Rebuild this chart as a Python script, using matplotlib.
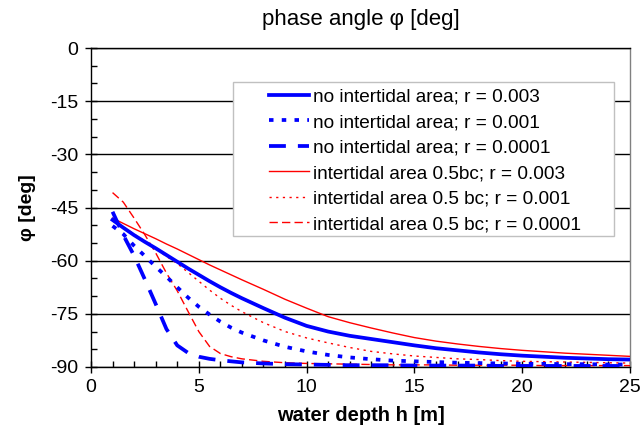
import matplotlib
matplotlib.use("Agg")
import matplotlib.pyplot as plt
from matplotlib.patches import Rectangle
from matplotlib.ticker import MultipleLocator

plt.rcParams['font.family'] = ['Liberation Sans', 'DejaVu Sans']
plt.rcParams['axes.unicode_minus'] = False

# water depth h [m]
h = [1, 1.5, 2, 2.5, 3, 3.5, 4, 4.5, 5, 5.5, 6, 6.5, 7, 8, 9, 10,
     11, 12, 13, 14, 15, 16, 17, 18, 19, 20, 21, 22, 23, 24, 25]

# phase angle [deg]
no_r003 = [-48.5, -50.7, -52.8, -54.7, -56.5, -58.4, -60.3, -62.2, -64.0, -65.8,
           -67.5, -69.1, -70.6, -73.4, -76.1, -78.4, -80.0, -81.2, -82.1, -83.0,
           -83.9, -84.7, -85.3, -85.9, -86.4, -86.8, -87.1, -87.4, -87.6, -87.8, -87.9]
no_r001 = [-50.2, -52.5, -55.8, -58.7, -61.7, -64.5, -67.5, -70.4, -73.0, -75.2,
           -77.2, -78.9, -80.3, -82.5, -84.3, -85.6, -86.6, -87.3, -87.8, -88.2,
           -88.4, -88.6, -88.8, -88.9, -89.0, -89.1, -89.1, -89.2, -89.2, -89.3, -89.3]
no_r0001 = [-46.2, -52.8, -58.6, -65.3, -72.2, -79.3, -83.9, -86.0, -87.1, -87.7,
            -88.1, -88.4, -88.7, -89.0, -89.2, -89.3, -89.4, -89.5, -89.5, -89.5,
            -89.6, -89.6, -89.6, -89.6, -89.7, -89.7, -89.7, -89.7, -89.7, -89.7, -89.7]
it_r003 = [-48.0, -49.5, -51.0, -52.4, -53.8, -55.3, -56.7, -58.2, -59.7, -61.2,
           -62.6, -64.0, -65.4, -68.1, -70.9, -73.4, -75.8, -77.5, -79.0, -80.4,
           -81.7, -82.7, -83.5, -84.2, -84.8, -85.3, -85.7, -86.1, -86.4, -86.7, -87.0]
it_r001 = [-48.7, -50.5, -52.5, -54.5, -56.6, -58.8, -60.8, -63.3, -65.8, -68.3,
           -70.6, -72.6, -74.4, -77.5, -80.0, -81.8, -83.2, -84.5, -85.6, -86.3,
           -86.9, -87.3, -87.7, -87.9, -88.2, -88.4, -88.5, -88.6, -88.7, -88.8, -88.9]
it_r0001 = [-40.8, -43.5, -48.0, -52.7, -57.8, -63.5, -68.5, -74.3, -80.0, -84.2,
            -86.2, -87.1, -87.7, -88.4, -88.8, -89.0, -89.1, -89.2, -89.3, -89.4,
            -89.4, -89.4, -89.5, -89.5, -89.5, -89.5, -89.6, -89.6, -89.6, -89.6, -89.6]

labels = ['no intertidal area; r = 0.003',
          'no intertidal area; r = 0.001',
          'no intertidal area; r = 0.0001',
          'intertidal area 0.5bc; r = 0.003',
          'intertidal area 0.5 bc; r = 0.001',
          'intertidal area 0.5 bc; r = 0.0001']

fig = plt.figure(figsize=(6.43, 4.26), dpi=100)
ax = fig.add_axes([0.1415, 0.1385, 0.8383, 0.7488])

blue = '#0000ff'
red = '#ff0000'
ax.plot(h, no_r003, color=blue, lw=2.7, label=labels[0], zorder=4)
ax.plot(h, no_r001, color=blue, lw=2.7, dashes=(1.2, 2.2), label=labels[1], zorder=4)
ax.plot(h, no_r0001, color=blue, lw=2.7, dashes=(4.5, 3.2), label=labels[2], zorder=4)
ax.plot(h, it_r003, color=red, lw=1.0, label=labels[3], zorder=3)
ax.plot(h, it_r001, color=red, lw=1.0, dashes=(1.6, 3.2), label=labels[4], zorder=3)
ax.plot(h, it_r0001, color=red, lw=1.0, dashes=(6, 3), label=labels[5], zorder=3)

ax.set_xlim(0, 25)
ax.set_ylim(-90, 0)
ax.xaxis.set_major_locator(MultipleLocator(5))
ax.xaxis.set_minor_locator(MultipleLocator(1))
ax.yaxis.set_major_locator(MultipleLocator(15))
ax.yaxis.set_minor_locator(MultipleLocator(5))
ax.grid(axis='y', which='major', color='black', lw=1.0, zorder=1)
ax.set_axisbelow(True)

ax.tick_params(which='major', direction='inout', length=8, width=1.0, labelsize=14,
               color='black')
ax.tick_params(which='minor', direction='in', length=4, width=1.0)
ax.tick_params(axis='x', which='major', pad=5)
ax.tick_params(axis='y', which='major', pad=5)

for s in ['left', 'bottom', 'top']:
    ax.spines[s].set_color('black')
    ax.spines[s].set_linewidth(1.0)
ax.spines['right'].set_color('#808080')
ax.spines['right'].set_linewidth(1.0)

ax.set_xlabel('water depth h [m]', fontsize=14.5, fontweight='bold', labelpad=6.5)
ax.set_ylabel('φ [deg]', fontsize=14, fontweight='bold', labelpad=10)
fig.text(0.561, 1 - 20 / 426, 'phase angle φ [deg]', fontsize=16, ha='center', va='center')

# legend box
box = Rectangle((233 / 643, 1 - 236 / 426), (614 - 233) / 643, (236 - 82) / 426,
                transform=fig.transFigure, facecolor='white', edgecolor='#c0c0c0',
                lw=1.0, zorder=2)
ax.add_patch(box)
leg = ax.legend(loc='upper left', bbox_to_anchor=(256 / 643, 1 - 75 / 426),
                bbox_transform=fig.transFigure, frameon=False, fontsize=13.7,
                handlelength=2.1, handletextpad=0.2, labelspacing=0.43,
                borderpad=0.2)
leg.set_zorder(6)

fig.savefig('out.png', dpi=100)
